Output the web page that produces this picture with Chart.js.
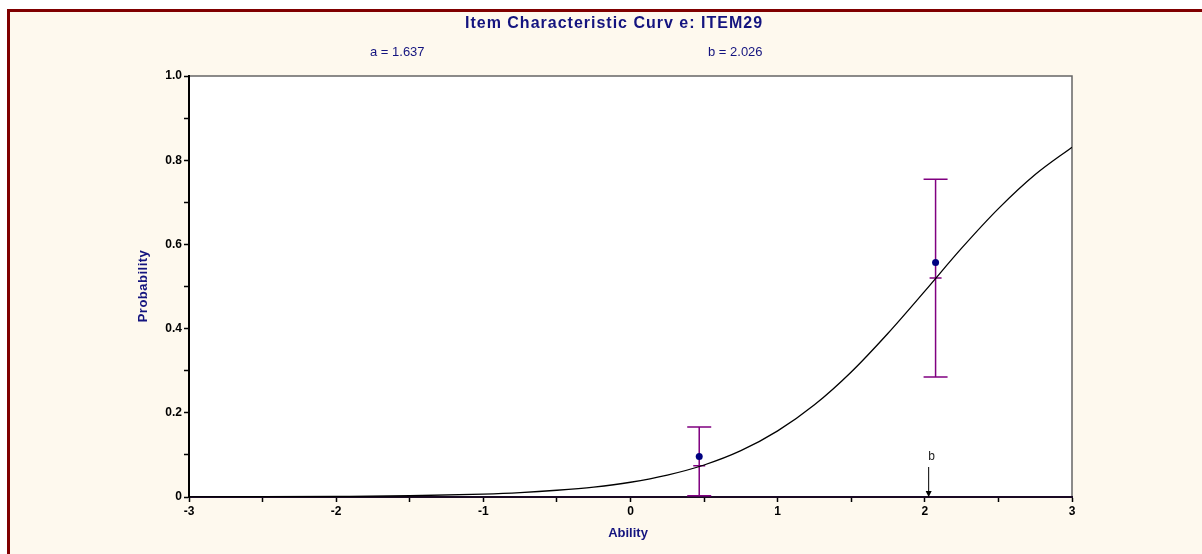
<!DOCTYPE html>
<html>
<head>
<meta charset="utf-8">
<script src="https://cdn.jsdelivr.net/npm/chart.js@4/dist/chart.umd.min.js"></script>
<style>
  body { margin: 0; background: #ffffff; }
  #wrap { width: 1202px; height: 554px; }
</style>
</head>
<body>
<div id="wrap"><canvas id="icc" width="1202" height="554"></canvas></div>
<script>
// curve
const abilityGrid = [-3, -2.5, -2, -1.5, -1, -0.75, -0.5, -0.25, 0, 0.25, 0.5, 0.75, 1, 1.25, 1.5, 1.75, 2, 2.25, 2.5, 2.75, 3];
const curveProb = [0.0003, 0.0006, 0.0014, 0.003, 0.007, 0.0105, 0.016, 0.0235, 0.035, 0.052, 0.076, 0.11, 0.157, 0.219, 0.297, 0.389, 0.489, 0.591, 0.685, 0.766, 0.831];

// observed proportions with error bars
const obsAbility = [0.467, 2.073];
const obsProb = [0.096, 0.557];
const errLow = [0.003, 0.285];
const errHigh = [0.166, 0.755];
const modelProb = [0.074, 0.52];

const titleText = "Item Characteristic Curv e: ITEM29";
const paramA = "a = 1.637";
const paramB = "b = 2.026";
const bValue = 2.026;

const navy = "#14147f";
const purple = "#800080";
const cream = "#fef9ee";

const curvePoints = abilityGrid.map((x, i) => ({ x: x, y: curveProb[i] }));
const obsPoints = obsAbility.map((x, i) => ({ x: x, y: obsProb[i] }));

// background, frame, error bars and all the extra text
const decorPlugin = {
  id: "decor",
  beforeDraw(chart) {
    const ctx = chart.ctx;
    const a = chart.chartArea;
    ctx.save();
    ctx.fillStyle = "#ffffff";
    ctx.fillRect(0, 0, chart.width, chart.height);
    ctx.fillStyle = cream;
    ctx.fillRect(7, 9, chart.width - 7, chart.height - 9);
    ctx.fillStyle = "#800000";
    ctx.fillRect(7, 9, chart.width - 7, 3);
    ctx.fillRect(7, 9, 3, chart.height - 9);
    ctx.fillStyle = "#ffffff";
    ctx.fillRect(a.left, a.top, a.right - a.left, a.bottom - a.top);
    // thin grey top/right frame
    ctx.strokeStyle = "#666666";
    ctx.lineWidth = 1.5;
    ctx.beginPath();
    ctx.moveTo(a.left, a.top);
    ctx.lineTo(a.right, a.top);
    ctx.lineTo(a.right, a.bottom);
    ctx.stroke();
    ctx.restore();
  },
  beforeDatasetsDraw(chart) {
    const ctx = chart.ctx;
    const xs = chart.scales.x;
    const ys = chart.scales.y;
    ctx.save();
    ctx.strokeStyle = purple;
    ctx.lineWidth = 1.5;
    obsAbility.forEach((ab, i) => {
      const px = xs.getPixelForValue(ab);
      const top = ys.getPixelForValue(errHigh[i]);
      const bot = ys.getPixelForValue(errLow[i]);
      const mid = ys.getPixelForValue(modelProb[i]);
      ctx.beginPath();
      ctx.moveTo(px, top); ctx.lineTo(px, bot);
      ctx.moveTo(px - 12, top); ctx.lineTo(px + 12, top);
      ctx.moveTo(px - 12, bot); ctx.lineTo(px + 12, bot);
      ctx.moveTo(px - 6, mid); ctx.lineTo(px + 6, mid);
      ctx.stroke();
    });
    ctx.restore();
  },
  afterDraw(chart) {
    const ctx = chart.ctx;
    const xs = chart.scales.x;
    const ys = chart.scales.y;
    ctx.save();
    ctx.textBaseline = "middle";

    // title
    ctx.fillStyle = navy;
    ctx.font = "bold 16px Arial, 'Liberation Sans', sans-serif";
    ctx.letterSpacing = "1px";
    ctx.textAlign = "center";
    ctx.fillText(titleText, 614, 24);
    ctx.letterSpacing = "0px";

    // parameters
    ctx.font = "13px Arial, 'Liberation Sans', sans-serif";
    ctx.textAlign = "left";
    ctx.fillText(paramA, 370, 52);
    ctx.fillText(paramB, 708, 52);

    // axis titles
    ctx.font = "bold 13px Arial, 'Liberation Sans', sans-serif";
    ctx.textAlign = "center";
    ctx.fillText("Ability", 628, 533);
    ctx.save();
    ctx.translate(143, 286);
    ctx.rotate(-Math.PI / 2);
    ctx.letterSpacing = "0.5px";
    ctx.fillText("Probability", 0, 0);
    ctx.restore();

    // b marker arrow
    const bx = xs.getPixelForValue(bValue);
    const axisY = ys.getPixelForValue(0);
    ctx.strokeStyle = "#000000";
    ctx.fillStyle = "#000000";
    ctx.lineWidth = 1;
    ctx.beginPath();
    ctx.moveTo(bx, axisY - 30);
    ctx.lineTo(bx, axisY - 4);
    ctx.stroke();
    ctx.beginPath();
    ctx.moveTo(bx - 3, axisY - 6);
    ctx.lineTo(bx + 3, axisY - 6);
    ctx.lineTo(bx, axisY);
    ctx.closePath();
    ctx.fill();
    ctx.fillStyle = "#222222";
    ctx.font = "12px Arial, 'Liberation Sans', sans-serif";
    ctx.fillText("b", bx + 3, axisY - 40);
    ctx.restore();
  }
};

new Chart(document.getElementById("icc"), {
  type: "scatter",
  data: {
    datasets: [
      {
        data: obsPoints,
        pointRadius: 3.5,
        pointBackgroundColor: "#000080",
        pointBorderWidth: 0,
        showLine: false
      },
      {
        data: curvePoints,
        showLine: true,
        borderColor: "#000000",
        borderWidth: 1.3,
        pointRadius: 0,
        cubicInterpolationMode: "monotone",
        fill: false
      }
    ]
  },
  options: {
    responsive: false,
    devicePixelRatio: 1,
    animation: false,
    layout: { padding: { left: 129, right: 130, top: 76, bottom: 0 } },
    plugins: {
      legend: { display: false },
      tooltip: { enabled: false }
    },
    scales: {
      x: {
        type: "linear",
        min: -3,
        max: 3,
        afterFit: (s) => { s.height = 57; },
        border: { display: true, color: "#1a0a24", width: 2 },
        grid: { drawOnChartArea: false, drawTicks: true, tickLength: 5, color: "#000000", tickWidth: 1.5 },
        ticks: {
          stepSize: 0.5,
          autoSkip: false,
          maxRotation: 0,
          padding: 2,
          color: "#000000",
          font: { family: "Arial, 'Liberation Sans', sans-serif", size: 12, weight: "bold" },
          callback: (v) => (Number.isInteger(v) ? String(v) : "")
        }
      },
      y: {
        type: "linear",
        min: 0,
        max: 1,
        afterFit: (s) => { s.width = 60; },
        border: { display: true, color: "#000000", width: 2 },
        grid: { drawOnChartArea: false, drawTicks: true, tickLength: 5, color: "#000000", tickWidth: 1.5 },
        ticks: {
          stepSize: 0.1,
          autoSkip: false,
          padding: 2,
          color: "#000000",
          font: { family: "Arial, 'Liberation Sans', sans-serif", size: 12, weight: "bold" },
          callback: (v) => {
            const r = Math.round(v * 10);
            if (r % 2) return "";
            return r === 0 ? "0" : (r / 10).toFixed(1);
          }
        }
      }
    }
  },
  plugins: [decorPlugin]
});
</script>
</body>
</html>
